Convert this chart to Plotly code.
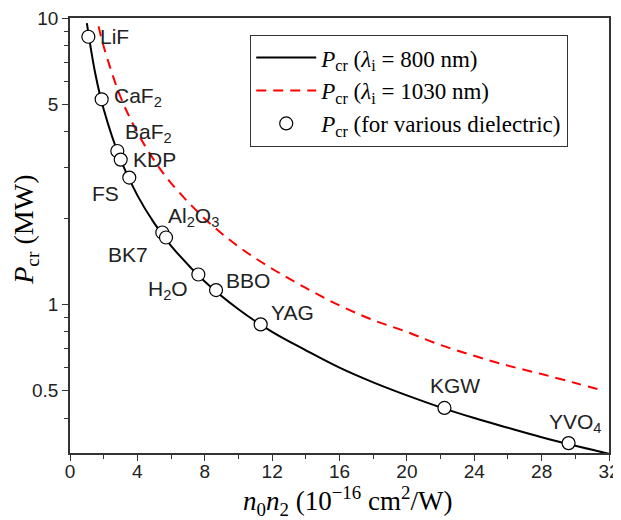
import math
import plotly.graph_objects as go

# curve samples
x800 = [1.0, 1.5, 2, 3, 4, 5, 6, 8, 10, 12, 14, 16, 18, 20, 22, 24, 26, 28, 30, 32]
y800 = [9.6, 6.4, 4.8, 3.2, 2.4, 1.92, 1.6, 1.2, 0.96, 0.8, 0.69, 0.6, 0.533, 0.48, 0.436, 0.40, 0.37, 0.343, 0.32, 0.30]
x1030 = [1.7, 2, 3, 4, 5, 6, 8, 10, 12, 14, 16, 18, 20, 22, 24, 26, 28, 30, 31.6]
y1030 = [9.35, 7.95, 5.3, 3.98, 3.18, 2.65, 1.99, 1.59, 1.33, 1.14, 0.99, 0.88, 0.80, 0.72, 0.66, 0.61, 0.57, 0.53, 0.50]

materials = ["LiF", "CaF<sub>2</sub>", "BaF<sub>2</sub>", "KDP", "FS", "Al<sub>2</sub>O<sub>3</sub>",
             "BK7", "H<sub>2</sub>O", "BBO", "YAG", "KGW", "YVO<sub>4</sub>"]
mat_x = [1.09, 1.88, 2.81, 3.01, 3.52, 5.48, 5.70, 7.62, 8.67, 11.32, 22.23, 29.6]
mat_y = [8.6, 5.2, 3.43, 3.2, 2.77, 1.78, 1.71, 1.27, 1.12, 0.85, 0.434, 0.327]

# label offsets (pixels) and anchors
lab_dx = [10, 10, 6, 10, -8, 4, -16, -8, 8, 8, -16, -22]
lab_dy = [0, 2, 18, 0, -16, 16, -17, -16, 10, 12, 22, 20]
lab_xa = ["left", "left", "left", "left", "right", "left", "right", "right", "left", "left", "left", "left"]

serif = "Liberation Serif"
sans = "Liberation Sans"

fig = go.Figure()
fig.add_trace(go.Scatter(
    x=x800, y=y800, mode="lines", line=dict(color="black", width=2, shape="spline"),
    name="<i>P</i><sub>cr</sub> (<i>λ</i><sub>i</sub> = 800 nm)"))
fig.add_trace(go.Scatter(
    x=x1030, y=y1030, mode="lines", line=dict(color="#ff0000", width=2, dash="10px,7px", shape="spline"),
    name="<i>P</i><sub>cr</sub> (<i>λ</i><sub>i</sub> = 1030 nm)"))
fig.add_trace(go.Scatter(
    x=mat_x, y=mat_y, mode="markers",
    marker=dict(size=13, color="white", line=dict(color="black", width=1.2)),
    name="<i>P</i><sub>cr</sub> (for various dielectric)"))

for t, x, y, dx, dy, xa in zip(materials, mat_x, mat_y, lab_dx, lab_dy, lab_xa):
    fig.add_annotation(x=x, y=math.log10(y), text=t, showarrow=False, xanchor=xa, yanchor="middle",
                       xshift=dx, yshift=dy, font=dict(family=sans, size=21, color="#222"))

# axis titles
fig.add_annotation(xref="paper", yref="paper", x=0.514, y=0, yshift=-48, xanchor="center", yanchor="middle",
                   showarrow=False,
                   text="<i>n</i><sub>0</sub><i>n</i><sub>2</sub> (10<sup>−16</sup> cm<sup>2</sup>/W)",
                   font=dict(family=serif, size=27, color="black"))
fig.add_annotation(xref="paper", yref="paper", x=0, y=0.513, xshift=-44, xanchor="center", yanchor="middle",
                   showarrow=False, textangle=-90,
                   text="<i>P</i><sub>cr</sub> (MW)",
                   font=dict(family=serif, size=28, color="black"))

fig.update_layout(
    width=613, height=512,
    margin=dict(l=62, r=12, t=10, b=67),
    paper_bgcolor="white", plot_bgcolor="white",
    showlegend=True,
    legend=dict(x=0.334, y=0.961, xanchor="left", yanchor="top",
                bordercolor="#333", borderwidth=1.2, bgcolor="white",
                font=dict(family=serif, size=23, color="black"),
                tracegroupgap=0, itemwidth=60),
    xaxis=dict(range=[0, 32], tickvals=[0, 4, 8, 12, 16, 20, 24, 28, 32], automargin=False,
               ticks="outside", ticklen=6, tickwidth=1.2, tickcolor="#333", ticklabelstandoff=-6,
               ticklabeloverflow="allow",
               minor=dict(tickvals=[2, 6, 10, 14, 18, 22, 26, 30], ticks="outside", ticklen=4, tickcolor="#333"),
               showline=True, linecolor="#333", linewidth=1.5, mirror=True, showgrid=False, zeroline=False,
               tickfont=dict(family=sans, size=19, color="#222")),
    yaxis=dict(type="log", range=[-0.52, 1.0], automargin=False, ticklabeloverflow="allow",
               tickvals=[0.5, 1, 5, 10], ticktext=["0.5", "1", "5", "10"],
               ticks="outside", ticklen=6, tickwidth=1.2, tickcolor="#333",
               minor=dict(tickvals=[0.4, 0.6, 0.7, 0.8, 0.9, 2, 3, 4, 6, 7, 8, 9],
                          ticks="outside", ticklen=4, tickcolor="#333"),
               showline=True, linecolor="#333", linewidth=1.5, mirror=True, showgrid=False, zeroline=False,
               tickfont=dict(family=sans, size=19, color="#222")),
)

fig.write_html("out.html")
